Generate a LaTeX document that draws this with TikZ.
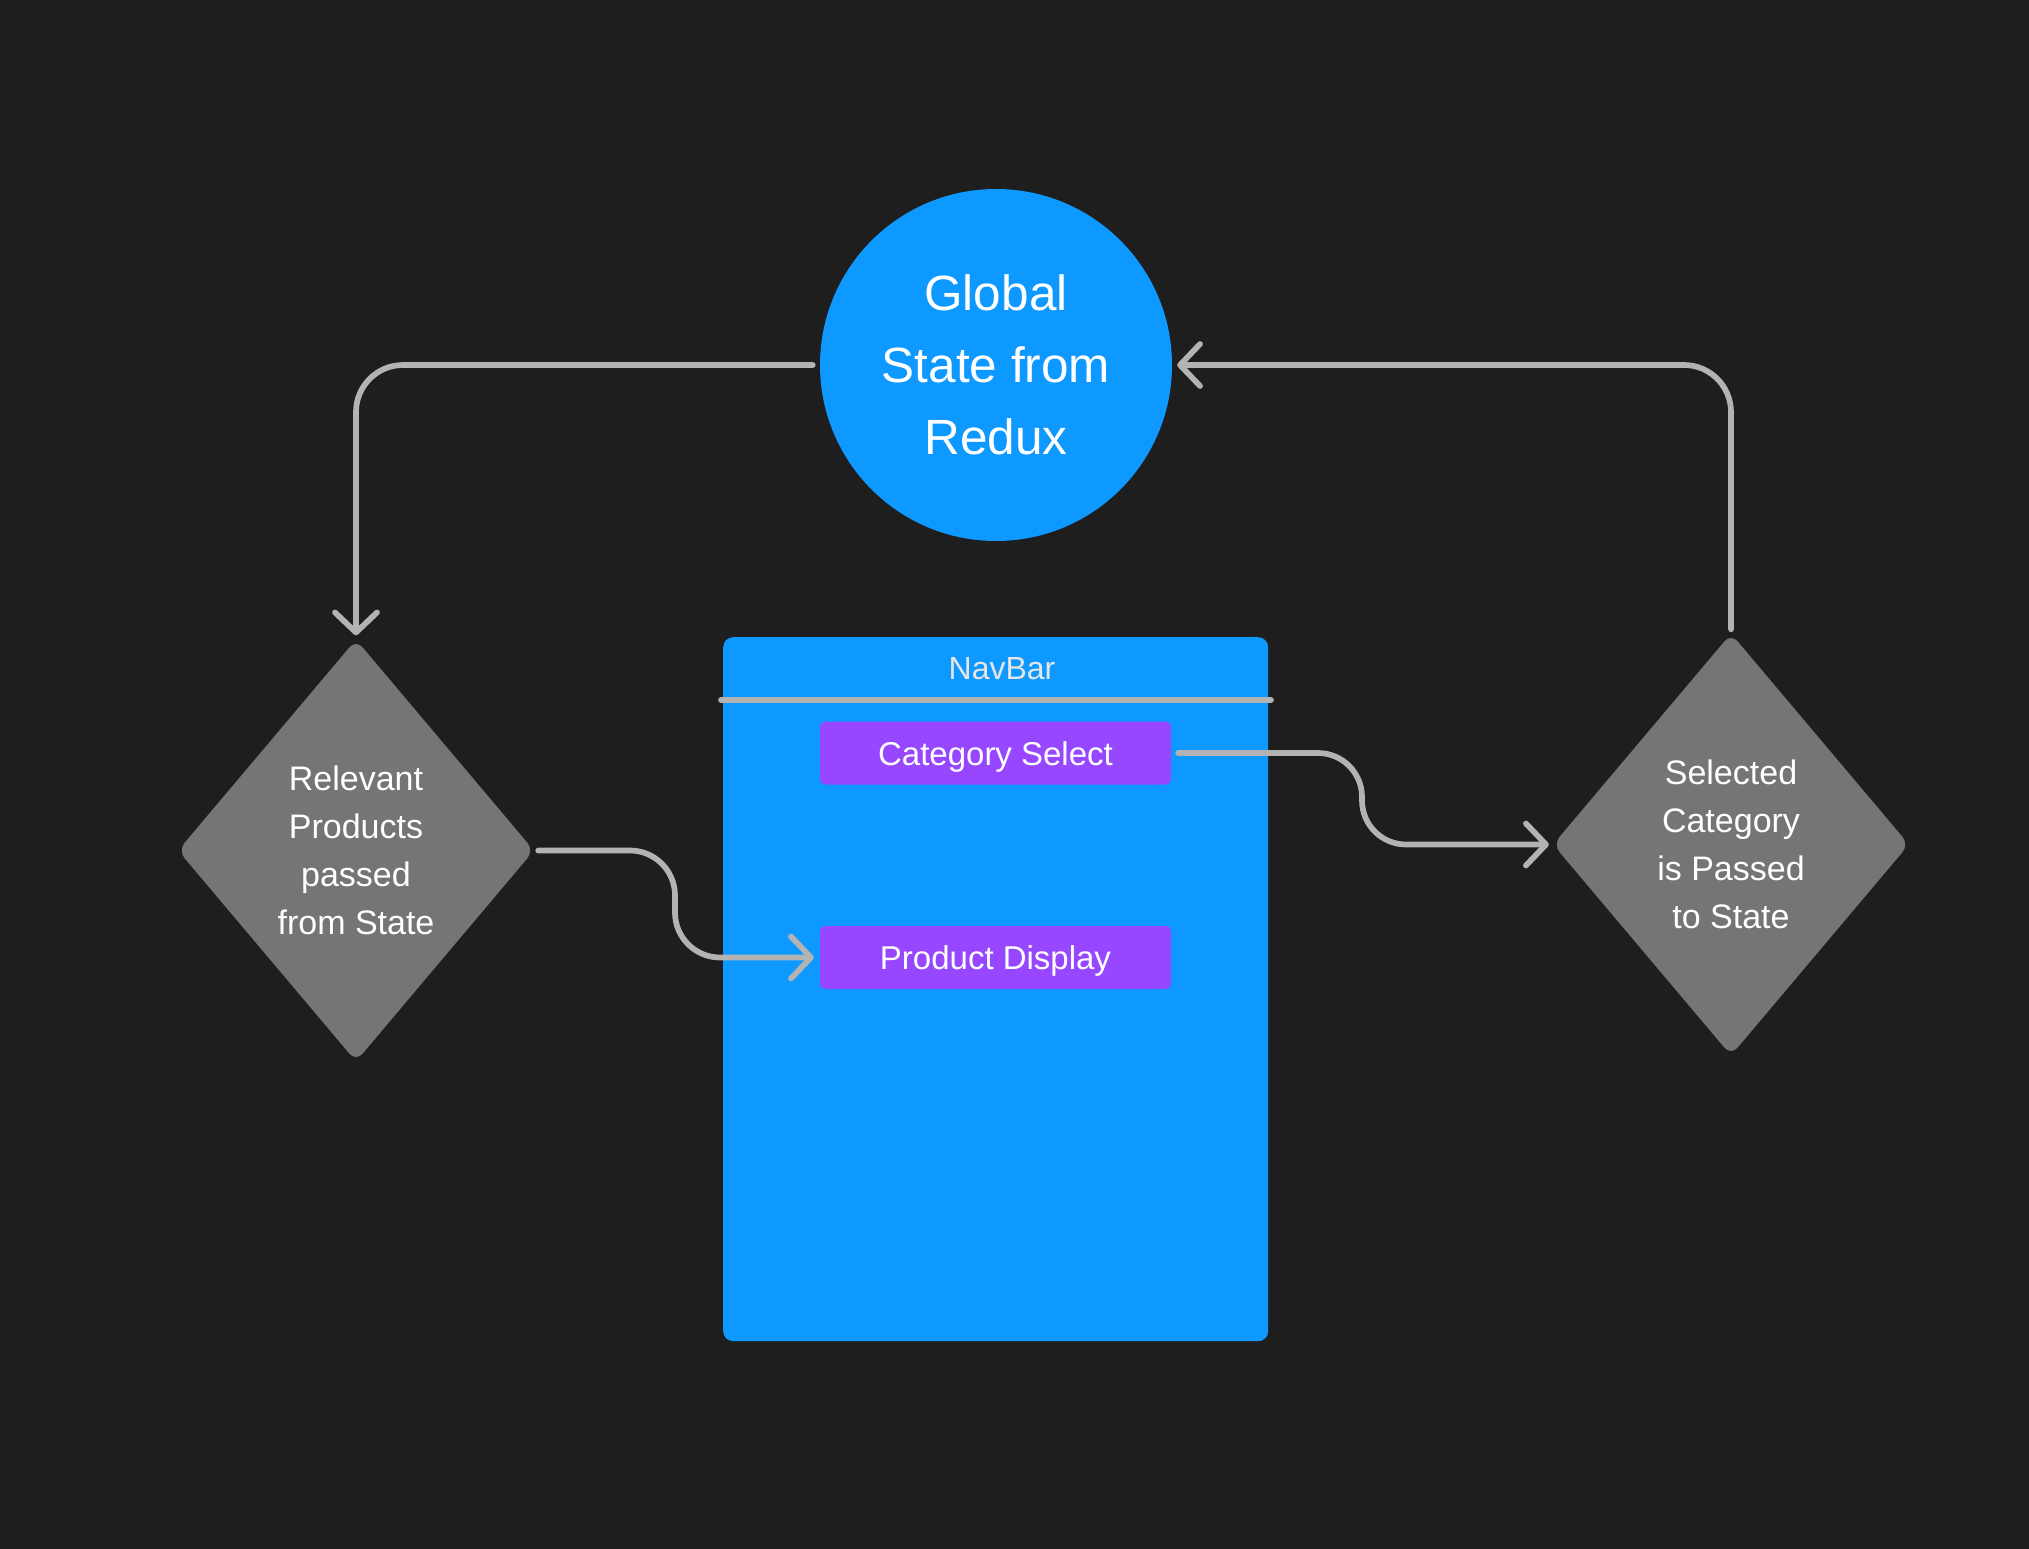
\documentclass[tikz,border=0pt]{standalone}
\usepackage{fontspec}
\setmainfont{Liberation Sans}
\usetikzlibrary{shapes.geometric, arrows.meta}
\definecolor{bg}{HTML}{1E1E1E}
\definecolor{fblue}{HTML}{0D99FF}
\definecolor{fpurple}{HTML}{9747FF}
\definecolor{dgray}{HTML}{757575}
\definecolor{lgray}{HTML}{B3B3B3}
\definecolor{navtext}{HTML}{E6E6E6}
\begin{document}
\begin{tikzpicture}[x=1pt, y=-1pt,
  conn/.style={draw=lgray, line width=5.7pt, line cap=round, line join=round},
  arr/.style={-{Straight Barb[length=20pt,width=42pt,round]}},
  dia/.style={diamond, fill=dgray, rounded corners=10pt, minimum width=356pt, minimum height=422pt, aspect=0.85, inner sep=0pt, text=white, align=center, font=\fontsize{34}{48}\selectfont},
  comp/.style={rectangle, fill=fpurple, rounded corners=5pt, minimum width=351pt, minimum height=63pt, inner sep=0pt, text=white, text height=24pt, text depth=0pt, font=\fontsize{33}{40}\selectfont},
]
\fill[bg] (0,0) rectangle (2029,1549);
\node[circle, fill=fblue, minimum size=352pt, inner sep=0pt, text=white, align=center, font=\fontsize{49.5}{72}\selectfont] (glob) at (996,365) {Global\\State from\\Redux};
\node[rectangle, fill=fblue, rounded corners=10pt, minimum width=545pt, minimum height=704pt, inner sep=0pt, anchor=north west] (nav) at (723,637) {};
\node[text=navtext, font=\fontsize{32}{38}\selectfont] (navlabel) at (1002,669) {NavBar};
\coordinate (sepL) at (721,700);
\coordinate (sepR) at (1271,700);
\draw[conn] (sepL) -- (sepR);
\node[comp] (cat) at (995.5,753) {Category Select};
\node[comp] (pd) at (995.5,957.5) {Product Display};
\node[dia] (ldia) at (356,850.5) {Relevant\\Products\\passed\\from State};
\node[dia] (rdia) at (1731,844.5) {Selected\\Category\\is Passed\\to State};
\coordinate (k1) at (1362,800);
\coordinate (k2) at (675,900);
\draw[conn, arr, rounded corners=47pt] ([xshift=-7pt]glob.west) -| ([yshift=4pt]ldia.north);
\draw[conn, arr, rounded corners=47pt] ([yshift=4pt]rdia.north) |- ([xshift=5pt]glob.east);
\draw[conn, arr, rounded corners=44pt] ([xshift=7pt]cat.east) -- (k1 |- cat.east) -- (k1 |- rdia.west) -- ([xshift=-4pt]rdia.west);
\draw[conn, arr, rounded corners=45pt] ([xshift=4pt]ldia.east) -- (k2 |- ldia.east) -- (k2 |- pd.west) -- ([xshift=-6pt]pd.west);
\end{tikzpicture}
\end{document}
